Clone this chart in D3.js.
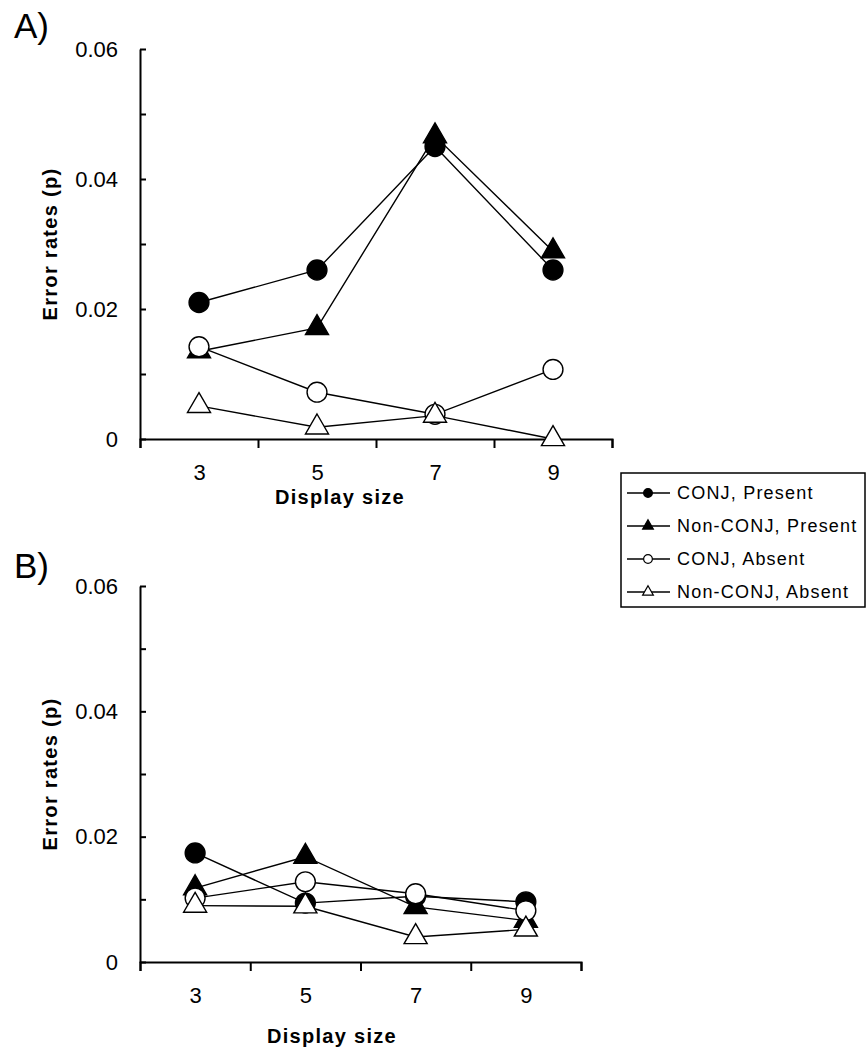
<!DOCTYPE html>
<head>
    <meta charset="utf-8">
    <script src="https://d3js.org/d3.v7.min.js"></script>
    <style>
        body { margin:0; background: white; }
        text { font-family: 'Liberation Sans', Arial, sans-serif; fill: black; }
        .axis path, .axis line { stroke: black; stroke-width: 2; }
        .tick-label { font-size: 22px; }
        .axis-title { font-size: 20px; font-weight: bold; letter-spacing: 1.3px; }
        .panel-label { font-size: 35px; }
        .series-line { fill: none; stroke: black; stroke-width: 1.4; }
        .legend-text { font-size: 18px; letter-spacing: 1.2px; }
    </style>
</head>

<body>
  <script>
    // display sizes (x categories)
    const displaySizes = [3, 5, 7, 9];
    const yTicks = [0, 0.02, 0.04, 0.06];

    const seriesNames = ['CONJ, Present', 'Non-CONJ, Present', 'CONJ, Absent', 'Non-CONJ, Absent'];

    // panel A
    const conjPresentA    = [0.0210, 0.0260, 0.0450, 0.0260];
    const nonConjPresentA = [0.0135, 0.0171, 0.0466, 0.0289];
    const conjAbsentA     = [0.0142, 0.0072, 0.0038, 0.0107];
    const nonConjAbsentA  = [0.0051, 0.0018, 0.0036, 0.0000];

    // panel B
    const conjPresentB    = [0.0174, 0.0094, 0.0105, 0.0096];
    const nonConjPresentB = [0.0118, 0.0168, 0.0088, 0.0066];
    const conjAbsentB     = [0.0102, 0.0128, 0.0109, 0.0082];
    const nonConjAbsentB  = [0.0090, 0.0089, 0.0040, 0.0052];

    const markers = [
        {shape: d3.symbolCircle, fill: 'black'},
        {shape: d3.symbolTriangle, fill: 'black'},
        {shape: d3.symbolCircle, fill: 'white'},
        {shape: d3.symbolTriangle, fill: 'white'}
    ];

    const width = 867;
    const height = 1053;

    const svg = d3.select('body').append('svg')
        .attr('width', width)
        .attr('height', height);

    const panels = [
        {label: 'A)', labelY: 38, left: 140, right: 612, top: 49, bottom: 439, xTitleX: 340, xTitleY: 504,
         series: [conjPresentA, nonConjPresentA, conjAbsentA, nonConjAbsentA]},
        {label: 'B)', labelY: 578, left: 140, right: 581, top: 586, bottom: 962, xTitleX: 332, xTitleY: 1043,
         series: [conjPresentB, nonConjPresentB, conjAbsentB, nonConjAbsentB]}
    ];

    panels.forEach(p => svg.call(drawPanel, p));
    svg.call(drawLegend);

    function drawPanel(selection, p) {
        const g = selection.append('g');

        const xScale = d3.scaleLinear().domain([2, 10]).range([p.left, p.right]);
        const yScale = d3.scaleLinear().domain([0, 0.06]).range([p.bottom, p.top]);

        // y axis: inward ticks every 0.01
        g.append('g')
            .attr('class', 'axis y')
            .attr('transform', `translate(${p.left},0)`)
            .call(d3.axisRight(yScale)
                .tickValues(d3.range(0, 7).map(i => i / 100))
                .tickSize(6).tickSizeOuter(0).tickFormat(''));

        g.append('g')
            .attr('transform', `translate(${p.left},0)`)
            .call(d3.axisLeft(yScale).tickValues(yTicks).tickSize(0).tickPadding(22)
                .tickFormat(d => d === 0 ? '0' : d.toFixed(2)))
            .call(a => a.select('.domain').remove())
            .selectAll('text').attr('class', 'tick-label').attr('font-size', null).attr('font-family', null);

        // x axis: ticks between categories
        g.append('g')
            .attr('class', 'axis x')
            .attr('transform', `translate(0,${p.bottom})`)
            .call(d3.axisBottom(xScale).tickValues([2, 4, 6, 8, 10]).tickSize(9).tickFormat(''));

        g.append('g')
            .attr('transform', `translate(0,${p.bottom})`)
            .call(d3.axisBottom(xScale).tickValues(displaySizes).tickSize(0).tickPadding(25))
            .call(a => a.select('.domain').remove())
            .selectAll('text').attr('class', 'tick-label').attr('font-size', null).attr('font-family', null);

        g.append('text')
            .attr('class', 'panel-label')
            .attr('x', 14)
            .attr('y', p.labelY)
            .text(p.label);

        g.append('text')
            .attr('class', 'axis-title')
            .attr('text-anchor', 'middle')
            .attr('transform', `translate(57,${(p.top + p.bottom) / 2}) rotate(-90)`)
            .text('Error rates (p)');

        g.append('text')
            .attr('class', 'axis-title')
            .attr('text-anchor', 'middle')
            .attr('x', p.xTitleX)
            .attr('y', p.xTitleY)
            .text('Display size');

        const line = d3.line()
            .x((d, i) => xScale(displaySizes[i]))
            .y(d => yScale(d));

        g.selectAll('.series-line')
            .data(p.series)
            .enter().append('path')
            .attr('class', 'series-line')
            .attr('d', line);

        p.series.forEach((values, s) => {
            const m = markers[s];
            const area = m.shape === d3.symbolCircle ? 310 : 230;
            g.append('g').selectAll('path')
                .data(values)
                .enter().append('path')
                .attr('transform', (d, i) => `translate(${xScale(displaySizes[i])},${yScale(d)})`)
                .attr('d', d3.symbol(m.shape, area))
                .attr('fill', m.fill)
                .attr('stroke', 'black')
                .attr('stroke-width', 1.4);
        });
    }

    function drawLegend(selection) {
        const legend = selection.append('g').attr('class', 'legend');
        const rowY = d3.scalePoint().domain(seriesNames).range([493, 592]);

        legend.append('rect')
            .attr('x', 621).attr('y', 473)
            .attr('width', 244).attr('height', 134)
            .attr('fill', 'white')
            .attr('stroke', 'black')
            .attr('stroke-width', 1.5);

        const rows = legend.selectAll('.row')
            .data(seriesNames)
            .enter().append('g')
            .attr('class', 'row')
            .attr('transform', d => `translate(0,${rowY(d)})`);

        rows.append('line')
            .attr('x1', 627).attr('x2', 670)
            .attr('stroke', 'black').attr('stroke-width', 1.4);

        rows.append('path')
            .attr('transform', 'translate(648,0)')
            .attr('d', (d, i) => d3.symbol(markers[i].shape, markers[i].shape === d3.symbolCircle ? 60 : 50)())
            .attr('fill', (d, i) => markers[i].fill)
            .attr('stroke', 'black')
            .attr('stroke-width', 1.2);

        rows.append('text')
            .attr('class', 'legend-text')
            .attr('x', 677)
            .attr('dy', '0.36em')
            .text(d => d);
    }
  </script>
</body>
